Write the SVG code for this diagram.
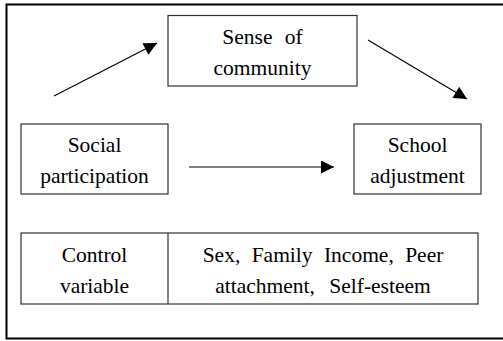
<svg xmlns="http://www.w3.org/2000/svg" width="503" height="341" viewBox="0 0 503 341">
<style>
.box{fill:#fff;stroke:#333;stroke-width:1.2}
.t{font-family:"Liberation Serif","Times New Roman",serif;font-size:21.5px;fill:#000;text-anchor:middle}
.c{stroke:#000;stroke-width:1.1;fill:none;marker-end:url(#ah)}
</style>
<defs>
<marker id="ah" viewBox="0 0 10 10" refX="10" refY="5" markerWidth="15" markerHeight="13" markerUnits="userSpaceOnUse" orient="auto">
<path d="M0,0 L10,5 L0,10 z" fill="#000"/>
</marker>
</defs>
<rect x="6.5" y="4.5" width="520" height="334" fill="#fff" stroke="#000" stroke-width="2"/>
<g id="sense">
<rect class="box" x="168" y="15.5" width="189" height="70.5"/>
<text class="t" x="262.5" y="44" word-spacing="7">Sense of</text>
<text class="t" x="262.5" y="75">community</text>
</g>
<g id="social">
<rect class="box" x="21" y="124" width="147" height="70"/>
<text class="t" x="94.5" y="152">Social</text>
<text class="t" x="94.5" y="183">participation</text>
</g>
<g id="school">
<rect class="box" x="354" y="124" width="127" height="70"/>
<text class="t" x="417.5" y="152">School</text>
<text class="t" x="417.5" y="183">adjustment</text>
</g>
<g id="control">
<rect class="box" x="21" y="233" width="457" height="71"/>
<line x1="168" y1="233" x2="168" y2="304" stroke="#333" stroke-width="1.2"/>
<text class="t" x="94.5" y="262">Control</text>
<text class="t" x="94.5" y="293">variable</text>
<text class="t" x="323" y="262" word-spacing="6">Sex, Family Income, Peer</text>
<text class="t" x="323" y="293" word-spacing="9">attachment, Self-esteem</text>
</g>
<g id="connectors">
<line class="c" x1="54" y1="96" x2="157" y2="43"/>
<line class="c" x1="368" y1="40" x2="467" y2="99"/>
<line class="c" x1="189" y1="167" x2="334" y2="167"/>
</g>
</svg>
